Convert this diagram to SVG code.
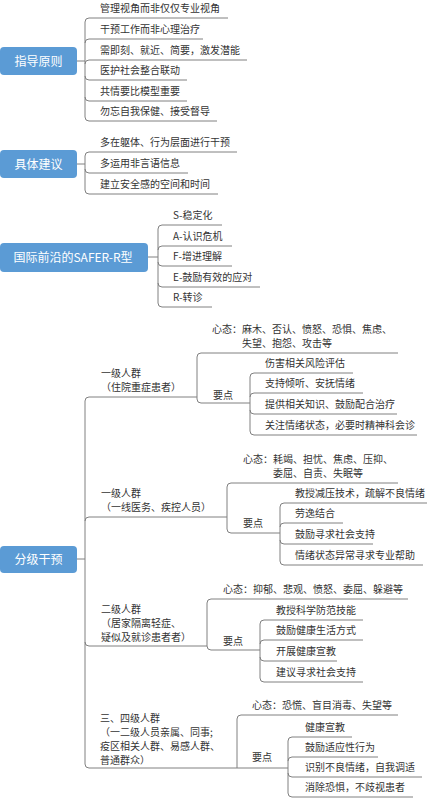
<svg xmlns="http://www.w3.org/2000/svg" width="428" height="805" viewBox="0 0 428 805">
<style>
.t{font-family:"Noto Sans CJK SC","Noto Sans",sans-serif;font-size:10px;fill:#333333}
.b{font-family:"Noto Sans CJK SC","Noto Sans",sans-serif;font-size:12px;fill:#ffffff;text-anchor:middle}
.box{fill:#5B9BD5}
.ln{fill:none;stroke:#808080;stroke-width:1}
</style>
<rect width="428" height="805" fill="#ffffff"/>
<g id="connectors" class="ln">
<path d="M77,61H85M85,22V117"/>
<path d="M85,22Q85,18 89,18H228M85,43Q85,39 89,39H203M85,64Q85,60 89,60H247M85,76Q85,80 89,80H187M85,97Q85,101 89,101H187M85,117Q85,121 89,121H217"/>
<path d="M77,164H85M85,156V190"/>
<path d="M85,156Q85,152 89,152H237M85,169Q85,173 89,173H188M85,190Q85,194 89,194H218"/>
<path d="M148,257H158M158,229V303"/>
<path d="M158,229Q158,225 162,225H222M158,250Q158,246 162,246H232M158,262Q158,266 162,266H232M158,283Q158,287 162,287H260M158,303Q158,307 162,307H212"/>
<path d="M77,559H85M85,401V764"/>
<path d="M85,401Q85,397 89,397H197M85,521Q85,517 89,517H227M85,642Q85,646 89,646H207M85,764Q85,768 89,768H237"/>
<path d="M197,357V399M197,357Q197,353 201,353H398M197,399Q197,403 201,403H250"/>
<path d="M250,377V431M250,377Q250,373 254,373H353M250,397Q250,393 254,393H363M250,410Q250,414 254,414H397M250,431Q250,435 254,435H417"/>
<path d="M227,487V529M227,487Q227,483 231,483H398M227,529Q227,533 231,533H280"/>
<path d="M280,507V561M280,507Q280,503 284,503H427M280,527Q280,523 284,523H343M280,540Q280,544 284,544H373M280,561Q280,565 284,565H423"/>
<path d="M207,603V646M207,603Q207,599 211,599H408M207,646Q207,650 211,650H260"/>
<path d="M260,624V678M260,624Q260,620 264,620H363M260,644Q260,640 264,640H363M260,657Q260,661 264,661H337M260,678Q260,682 264,682H363"/>
<path d="M237,719V768M237,719Q237,715 241,715H398M237,768H288"/>
<path d="M288,741V793M288,741Q288,737 292,737H352M288,761Q288,757 292,757H378M288,773Q288,777 292,777H422M288,793Q288,797 292,797H413"/>
</g>

<g id="n-zhidao">
<rect class="box" x="0" y="47" width="77" height="28" rx="4"/>
<text class="b" x="38.5" y="65.5">指导原则</text>
</g>
<g id="n-zhidao-items" class="t">
<text x="100" y="12">管理视角而非仅仅专业视角</text>
<text x="100" y="33">干预工作而非心理治疗</text>
<text x="100" y="54">需即刻、就近、简要，激发潜能</text>
<text x="100" y="74">医护社会整合联动</text>
<text x="100" y="95">共情要比模型重要</text>
<text x="100" y="115">勿忘自我保健、接受督导</text>
</g>

<g id="n-jianyi">
<rect class="box" x="0" y="150" width="77" height="28" rx="4"/>
<text class="b" x="38.5" y="168.5">具体建议</text>
</g>
<g id="n-jianyi-items" class="t">
<text x="100" y="146">多在躯体、行为层面进行干预</text>
<text x="100" y="167">多运用非言语信息</text>
<text x="100" y="188">建立安全感的空间和时间</text>
</g>

<g id="n-safer">
<rect class="box" x="0" y="243" width="148" height="29" rx="4"/>
<text class="b" x="73" y="262">国际前沿的SAFER-R型</text>
</g>
<g id="n-safer-items" class="t">
<text x="173" y="219">S-稳定化</text>
<text x="173" y="240">A-认识危机</text>
<text x="173" y="260">F-增进理解</text>
<text x="173" y="281">E-鼓励有效的应对</text>
<text x="173" y="301">R-转诊</text>
</g>

<g id="n-fenji">
<rect class="box" x="0" y="546" width="77" height="27" rx="4"/>
<text class="b" x="38.5" y="564">分级干预</text>
</g>

<g id="n-a" class="t">
<text x="101" y="377">一级人群<tspan x="101" y="391">（住院重症患者）</tspan></text>
<text x="212" y="333">心态：麻木、否认、愤怒、恐惧、焦虑、<tspan x="242" y="347">失望、抱怨、攻击等</tspan></text>
<text x="213" y="399">要点</text>
<text x="265" y="367">伤害相关风险评估</text>
<text x="265" y="387">支持倾听、安抚情绪</text>
<text x="265" y="408">提供相关知识、鼓励配合治疗</text>
<text x="265" y="429">关注情绪状态，必要时精神科会诊</text>
</g>

<g id="n-b" class="t">
<text x="101" y="497">一级人群<tspan x="101" y="511">（一线医务、疾控人员）</tspan></text>
<text x="243" y="463">心态：耗竭、担忧、焦虑、压抑、<tspan x="273" y="477">委屈、自责、失眠等</tspan></text>
<text x="243" y="527">要点</text>
<text x="295" y="497">教授减压技术，疏解不良情绪</text>
<text x="295" y="517">劳逸结合</text>
<text x="295" y="538">鼓励寻求社会支持</text>
<text x="295" y="559">情绪状态异常寻求专业帮助</text>
</g>

<g id="n-c" class="t">
<text x="101" y="613">二级人群<tspan x="101" y="627">（居家隔离轻症、</tspan><tspan x="101" y="641">疑似及就诊患者者）</tspan></text>
<text x="223" y="593">心态：抑郁、悲观、愤怒、委屈、躲避等</text>
<text x="223" y="645">要点</text>
<text x="276" y="614">教授科学防范技能</text>
<text x="276" y="634">鼓励健康生活方式</text>
<text x="276" y="655">开展健康宣教</text>
<text x="276" y="676">建议寻求社会支持</text>
</g>

<g id="n-d" class="t">
<text x="100" y="722">三、四级人群<tspan x="100" y="736">（一二级人员亲属、同事;</tspan><tspan x="100" y="750">疫区相关人群、易感人群、</tspan><tspan x="100" y="764">普通群众）</tspan></text>
<text x="252" y="709">心态：恐慌、盲目消毒、失望等</text>
<text x="252" y="761">要点</text>
<text x="305" y="731">健康宣教</text>
<text x="305" y="751">鼓励适应性行为</text>
<text x="305" y="771">识别不良情绪，自我调适</text>
<text x="305" y="791">消除恐惧，不歧视患者</text>
</g>
</svg>
